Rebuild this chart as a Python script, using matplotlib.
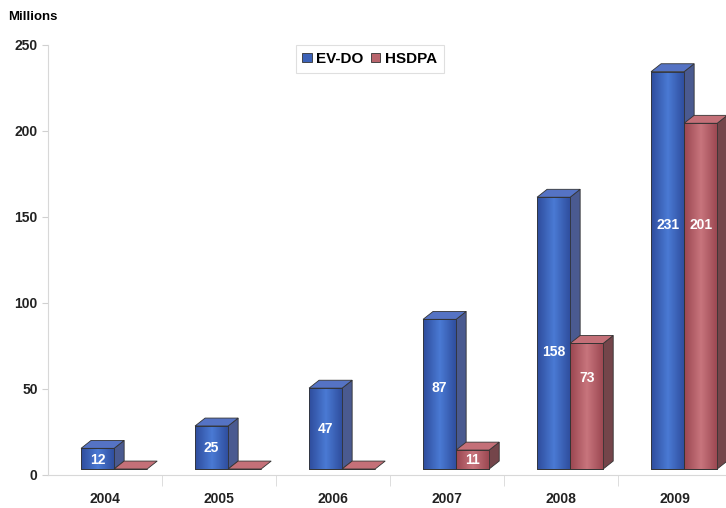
import matplotlib.pyplot as plt
import numpy as np
from matplotlib.patches import Polygon
from matplotlib.colors import LinearSegmentedColormap

years = ['2004', '2005', '2006', '2007', '2008', '2009']
evdo = [12, 25, 47, 87, 158, 231]
hsdpa = [0, 0, 0, 11, 73, 201]
# where the value labels sit (millions above the bar base)
evdo_lab = [5, 12, 23, 47, 68, 142]
hsdpa_lab = [None, None, None, 5, 53, 142]

plt.rcParams['font.family'] = ['Liberation Sans', 'DejaVu Sans']

fig = plt.figure(figsize=(7.26, 5.08), dpi=100)
ax = fig.add_axes([48/726, 33/508, 684/726, 430/508])
ax.set_xlim(-0.5, 5.5)
ax.set_ylim(0, 250)

x = np.arange(len(years))
w = 0.29
lift = 3.5          # front face sits a little above the floor line
dx, dy = 0.088, 4.6  # depth of the pseudo-3D boxes

series = [
    (evdo, -0.21, ['#2e4c9c', '#4a7ad4', '#2e4c9c'], '#4a5a90', '#5573c4', 'EV-DO', '#3c62b8'),
    (hsdpa, 0.08, ['#9a4650', '#c8757d', '#9a4650'], '#74454a', '#c47078', 'HSDPA', '#b8646c'),
]

for vals, off, grad, side_c, top_c, name, base_c in series:
    cmap = LinearSegmentedColormap.from_list(name, grad)
    x0 = x + off
    bars = ax.bar(x0, vals, w, bottom=lift, align='edge', color=base_c,
                  edgecolor='#333333', linewidth=0.6, zorder=3, label=name)
    for xi, v, b in zip(x0, vals, bars):
        top = lift + v
        x1 = xi + w
        if v > 0:
            im = ax.imshow(np.linspace(0, 1, 64).reshape(1, -1), cmap=cmap,
                           extent=[xi, x1, lift, top], aspect='auto', zorder=3.1)
            im.set_clip_path(b)
            ax.add_patch(Polygon([(x1, lift), (x1 + dx, lift + dy), (x1 + dx, top + dy), (x1, top)],
                                 closed=True, facecolor=side_c, edgecolor='#333333',
                                 linewidth=0.6, zorder=3))
        ax.add_patch(Polygon([(xi, top), (xi + dx, top + dy), (x1 + dx, top + dy), (x1, top)],
                             closed=True, facecolor=top_c, edgecolor='#333333',
                             linewidth=0.6, zorder=3.2))
        ax.add_patch(Polygon([(xi, lift), (x1, lift), (x1, top), (xi, top)], closed=True,
                             facecolor='none', edgecolor='#333333', linewidth=0.6, zorder=3.3))

for i in range(len(years)):
    ax.text(x[i] - 0.21 + w / 2, lift + evdo_lab[i], str(evdo[i]), color='white', ha='center',
            va='center', fontsize=10, fontweight='bold', zorder=5)
    if hsdpa_lab[i] is not None:
        ax.text(x[i] + 0.08 + w / 2, lift + hsdpa_lab[i], str(hsdpa[i]), color='white',
                ha='center', va='center', fontsize=10, fontweight='bold', zorder=5)

for s in ['top', 'right']:
    ax.spines[s].set_visible(False)
for s in ['left', 'bottom']:
    ax.spines[s].set_color('#d8d8d8')
    ax.spines[s].set_linewidth(0.8)

ax.set_yticks(range(0, 251, 50))
ax.tick_params(axis='y', colors='#d0d0d0', length=4, labelcolor='#222222', labelsize=10)
ax.set_xticks(x)
ax.set_xticklabels(years)
ax.tick_params(axis='x', length=0, labelcolor='#222222', labelsize=10, pad=12)
ax.set_xticks(x[:-1] + 0.5, minor=True)
ax.tick_params(axis='x', which='minor', length=8, color='#d8d8d8')
for lab in ax.get_xticklabels() + ax.get_yticklabels():
    lab.set_fontweight('bold')

fig.text(8/726, 1 - 17/508, 'Millions', fontsize=9.5, fontweight='bold', va='center')

leg = ax.legend(loc='upper left', bbox_to_anchor=(0.362, 1.0), borderaxespad=0, ncol=2,
                frameon=True, fancybox=False, edgecolor='#d8d8d8', handlelength=0.6,
                handleheight=0.6, handletextpad=0.3, columnspacing=0.5, borderpad=0.45,
                prop={'weight': 'bold', 'size': 11})
leg.get_frame().set_linewidth(0.8)

fig.savefig('out.png', dpi=100)
